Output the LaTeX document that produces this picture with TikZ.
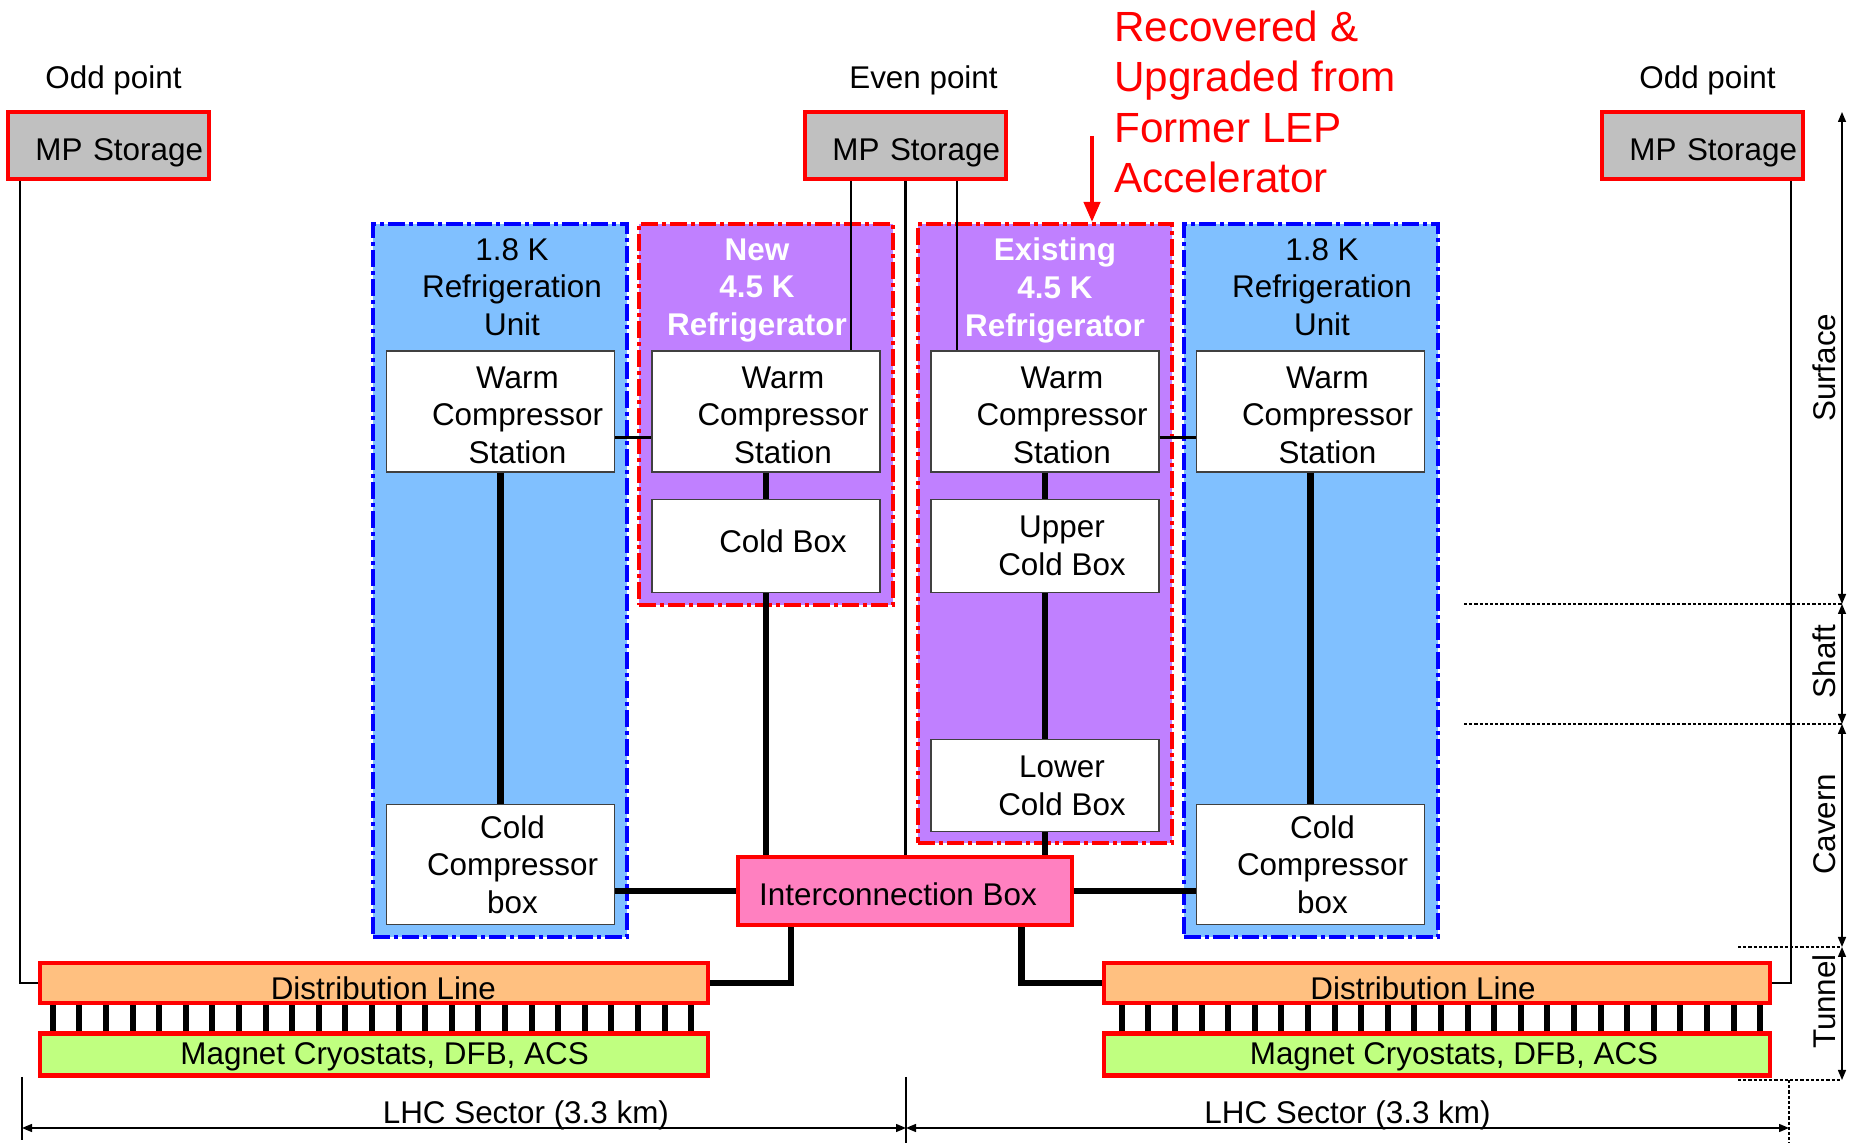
\documentclass[tikz,border=0pt]{standalone}
\usepackage{fontspec}
\setmainfont{Liberation Sans}
\usetikzlibrary{
	arrows.meta,
	positioning,
	calc
}
\definecolor{skyfill}{RGB}{128,192,255}
\definecolor{lilac}{RGB}{192,128,255}
\definecolor{mpgray}{RGB}{192,192,192}
\definecolor{dlorange}{RGB}{255,192,128}
\definecolor{mcgreen}{RGB}{192,255,128}
\definecolor{ibpink}{RGB}{255,128,192}

\begin{document}
\begin{tikzpicture}[
		x=0.5pt, y=-0.5pt,
		every node/.style={font=\fontsize{15.7}{18.8}\selectfont},
		mpbox/.style={draw=red, line width=2.2pt, fill=mpgray, text width=94.5pt, inner xsep=3pt, align=right, minimum height=33.5pt, text height=14.9pt, text depth=0pt},
		dashbox/.style={line width=2pt, dash pattern=on 8.5pt off 2pt on 2pt off 2pt, minimum width=127pt},
		kunit/.style={dashbox, draw=blue, fill=skyfill},
		fridge/.style={dashbox, draw=red, fill=lilac},
		utitle/.style={align=center},
		ftitle/.style={align=center, text=white, font=\fontsize{15.7}{18.8}\selectfont\bfseries},
		unitbox/.style={draw=black!75, line width=0.7pt, fill=white, minimum width=114pt},
		intext/.style={align=center, xshift=8.5pt},
		redbox/.style={draw=red, line width=2.2pt},
		distbox/.style={redbox, fill=dlorange, minimum width=334pt, minimum height=20pt, inner sep=0pt},
		magbox/.style={redbox, fill=mcgreen, minimum width=334pt, minimum height=21pt, inner sep=0pt},
		pipe/.style={line width=3.3pt},
		feed/.style={line width=1.2pt},
		rung/.style={line width=3pt},
		dimline/.style={line width=0.7pt},
		dimarrow/.style={{Triangle[length=5pt,width=4pt]}-{Triangle[length=5pt,width=4pt]}, line width=0.7pt},
		levelline/.style={line width=1.3pt, dash pattern=on 1.6pt off 1pt},
		levellabel/.style={anchor=south, rotate=90, inner sep=3pt},
		lepArrow/.style={red, line width=2pt, -{Triangle[length=10pt,width=8pt]}},
		node distance=13pt
		]
		\useasboundingbox (0,0) rectangle (1849,1143);
		
		% Refrigeration units
		\node[kunit, minimum height=356.5pt] (unitL) at (500,580.5) {};
		\node[fridge, minimum height=190.5pt] (fridgeN) at (766,414.5) {};
		\node[fridge, minimum height=309.5pt] (fridgeE) at (1045,533.5) {};
		\node[kunit, minimum height=356.5pt] (unitR) at (1310.5,580.5) {};
		
		\node[utitle] (titleL) at (512,287) {1.8 K\\Refrigeration\\Unit};
		\node[ftitle] (titleN) at (757,290.5) {New\\4.5 K\\Refrigerator};
		\node[ftitle] (titleE) at (1055,290.5) {Existing\\4.5 K\\Refrigerator};
		\node[utitle] (titleR) at (1322,287) {1.8 K\\Refrigeration\\Unit};
		
		% Nodes
		\node[unitbox, minimum height=60.5pt, label={[intext, yshift=-1.75pt]center:{Warm\\Compressor\\Station}}] (wcsL) at (500.5,411.5) {};
		\node[unitbox, minimum height=60.5pt, label={[intext, yshift=-1.75pt]center:{Warm\\Compressor\\Station}}] (wcsN) at (766,411.5) {};
		\node[unitbox, minimum height=60.5pt, label={[intext, yshift=-1.75pt]center:{Warm\\Compressor\\Station}}] (wcsE) at (1045,411.5) {};
		\node[unitbox, minimum height=60.5pt, label={[intext, yshift=-1.75pt]center:{Warm\\Compressor\\Station}}] (wcsR) at (1310.5,411.5) {};
		
		\node[unitbox, minimum height=46.5pt, below=of wcsN, label={[intext, yshift=2.4pt]center:Cold Box}] (coldN) {};
		\node[unitbox, minimum height=46.5pt, below=of wcsE, label={[intext]center:{Upper\\Cold Box}}] (upperE) {};
		\node[unitbox, minimum height=46pt, below=73pt of upperE, label={[intext]center:{Lower\\Cold Box}}] (lowerE) {};
		\node[unitbox, minimum height=60pt, below=165.5pt of wcsL, label={[intext, xshift=-2.5pt]center:{Cold\\Compressor\\box}}] (ccL) {};
		\node[unitbox, minimum height=60pt, below=165.5pt of wcsR, label={[intext, xshift=-2.5pt]center:{Cold\\Compressor\\box}}] (ccR) {};
		
		\node[mpbox] (mpL) at (108.5,145.5) {MP Storage};
		\node[mpbox] (mpC) at (905.5,145.5) {MP Storage};
		\node[mpbox] (mpR) at (1702.5,145.5) {MP Storage};
		\node[above=4pt of mpL, xshift=2.5pt] (oddL) {Odd point};
		\node[above=4pt of mpC, xshift=9pt] (even) {Even point};
		\node[above=4pt of mpR, xshift=2.5pt] (oddR) {Odd point};
		
		\node[redbox, fill=ibpink, minimum width=167pt, minimum height=34pt, label={[xshift=-3.5pt, yshift=-1.75pt]center:Interconnection Box}] (ibox) at (905,891) {};
		
		\node[distbox, label={[xshift=4.7pt, yshift=-2.5pt]center:Distribution Line}] (distL) at (374,983) {};
		\node[magbox, below=of distL, label={[xshift=5.3pt, yshift=-1pt]center:Magnet Cryostats, DFB, ACS}] (magL) {};
		\node[distbox, minimum width=333pt, label={[xshift=-7pt, yshift=-2.5pt]center:Distribution Line}] (distR) at (1437,983) {};
		\node[magbox, minimum width=333pt, below=of distR, label={[xshift=8.5pt, yshift=-1pt]center:Magnet Cryostats, DFB, ACS}] (magR) {};
		
		\node[anchor=west, inner sep=0pt, align=left, text=red, font=\fontsize{21.1}{25.3}\selectfont] (lepNote) at (1114,102) {Recovered \&\\Upgraded from\\Former LEP\\Accelerator};
		
		% Pipes
		\draw[pipe] (wcsL) -- (ccL);
		\draw[pipe] (wcsN) -- (coldN);
		\draw[pipe] (coldN) -- (coldN |- ibox.north);
		\draw[pipe] (wcsE) -- (upperE);
		\draw[pipe] (upperE) -- (lowerE);
		\draw[pipe] (lowerE) -- (lowerE |- ibox.north);
		\draw[pipe] (wcsR) -- (ccR);
		\draw[pipe] (ibox.west) -- (ibox.west -| ccL.east);
		\draw[pipe] (ibox.east) -- (ibox.east -| ccR.west);
		\coordinate (ibOutL) at ([xshift=27.5pt]ibox.south west);
		\coordinate (ibOutR) at ([xshift=-26.5pt]ibox.south east);
		\draw[pipe] (ibOutL) |- (distL.east);
		\draw[pipe] (ibOutR) |- (distR.west);
		
		% Feeds from storage
		\coordinate (mpLout) at ([xshift=7pt]mpL.south west);
		\coordinate (mpRout) at ([xshift=-7pt]mpR.south east);
		\coordinate (mpCoutN) at ([xshift=24pt]mpC.south west);
		\coordinate (mpCoutE) at ([xshift=25.75pt]mpC.south);
		\draw[feed] (mpLout) |- (distL.west);
		\draw[feed] (mpRout) |- (distR.east);
		\draw[feed] (mpCoutN) -- (mpCoutN |- wcsN.north);
		\draw[feed] (mpC.south) -- (mpC.south |- ibox.north);
		\draw[feed] (mpCoutE) -- (mpCoutE |- wcsE.north);
		\draw[feed] ([yshift=-13pt]wcsL.east) -- ([yshift=-13pt]wcsN.west);
		\draw[feed] ([yshift=-13pt]wcsE.east) -- ([yshift=-13pt]wcsR.west);
		
		\foreach \i in {0,...,24} {
			\draw[rung] ($(distL.south west)+(15+\i*26.6,0)$) -- ($(magL.north west)+(15+\i*26.6,0)$);
			\draw[rung] ($(distR.south west)+(20+\i*26.6,0)$) -- ($(magR.north west)+(20+\i*26.6,0)$);
		}
		
		% Red arrow
		\coordinate (lepFrom) at (1092,136);
		\draw[lepArrow] (lepFrom) -- (lepFrom |- fridgeE.north);
		
		% Levels
		\coordinate (lvTop) at (1842,112);
		\coordinate (lvA) at (1842,604);
		\coordinate (lvB) at (1842,724);
		\coordinate (lvC) at (1842,947);
		\coordinate (lvD) at (1842,1080);
		\coordinate (dotA) at (1464,604);
		\coordinate (dotB) at (1464,724);
		\coordinate (dotC) at (1738,947);
		\coordinate (dotD) at (1738,1080);
		\draw[levelline] (dotA) -- (lvA);
		\draw[levelline] (dotB) -- (lvB);
		\draw[levelline] (dotC) -- (lvC);
		\draw[levelline] (dotD) -- (lvD);
		\draw[dimarrow] (lvTop) -- node[levellabel, pos=0.52] (lvSurface) {Surface} (lvA);
		\draw[dimarrow] (lvA) -- node[levellabel, pos=0.48] (lvShaft) {Shaft} (lvB);
		\draw[dimarrow] (lvB) -- node[levellabel, pos=0.45] (lvCavern) {Cavern} (lvC);
		\draw[dimarrow] (lvC) -- node[levellabel, pos=0.41] (lvTunnel) {Tunnel} (lvD);
		
		% Sectors
		\coordinate (secL) at (22,1128);
		\coordinate (secM) at (906,1128);
		\coordinate (secR) at (1789,1128);
		\coordinate (tickL) at (22,1077);
		\coordinate (tickM) at (906,1077);
		\draw[dimline] (tickL) -- ([yshift=-6pt]secL);
		\draw[dimline] (tickM) -- ([yshift=-8pt]secM);
		\draw[levelline] (dotD -| secR) -- ([yshift=-8pt]secR);
		\draw[dimarrow] (secL) -- node[above=-2.5pt, pos=0.57, inner sep=1pt] (lhcL) {LHC Sector (3.3 km)} (secM);
		\draw[dimarrow] (secM) -- node[above=-2.5pt, inner sep=1pt] (lhcR) {LHC Sector (3.3 km)} (secR);
		
	\end{tikzpicture}
\end{document}
